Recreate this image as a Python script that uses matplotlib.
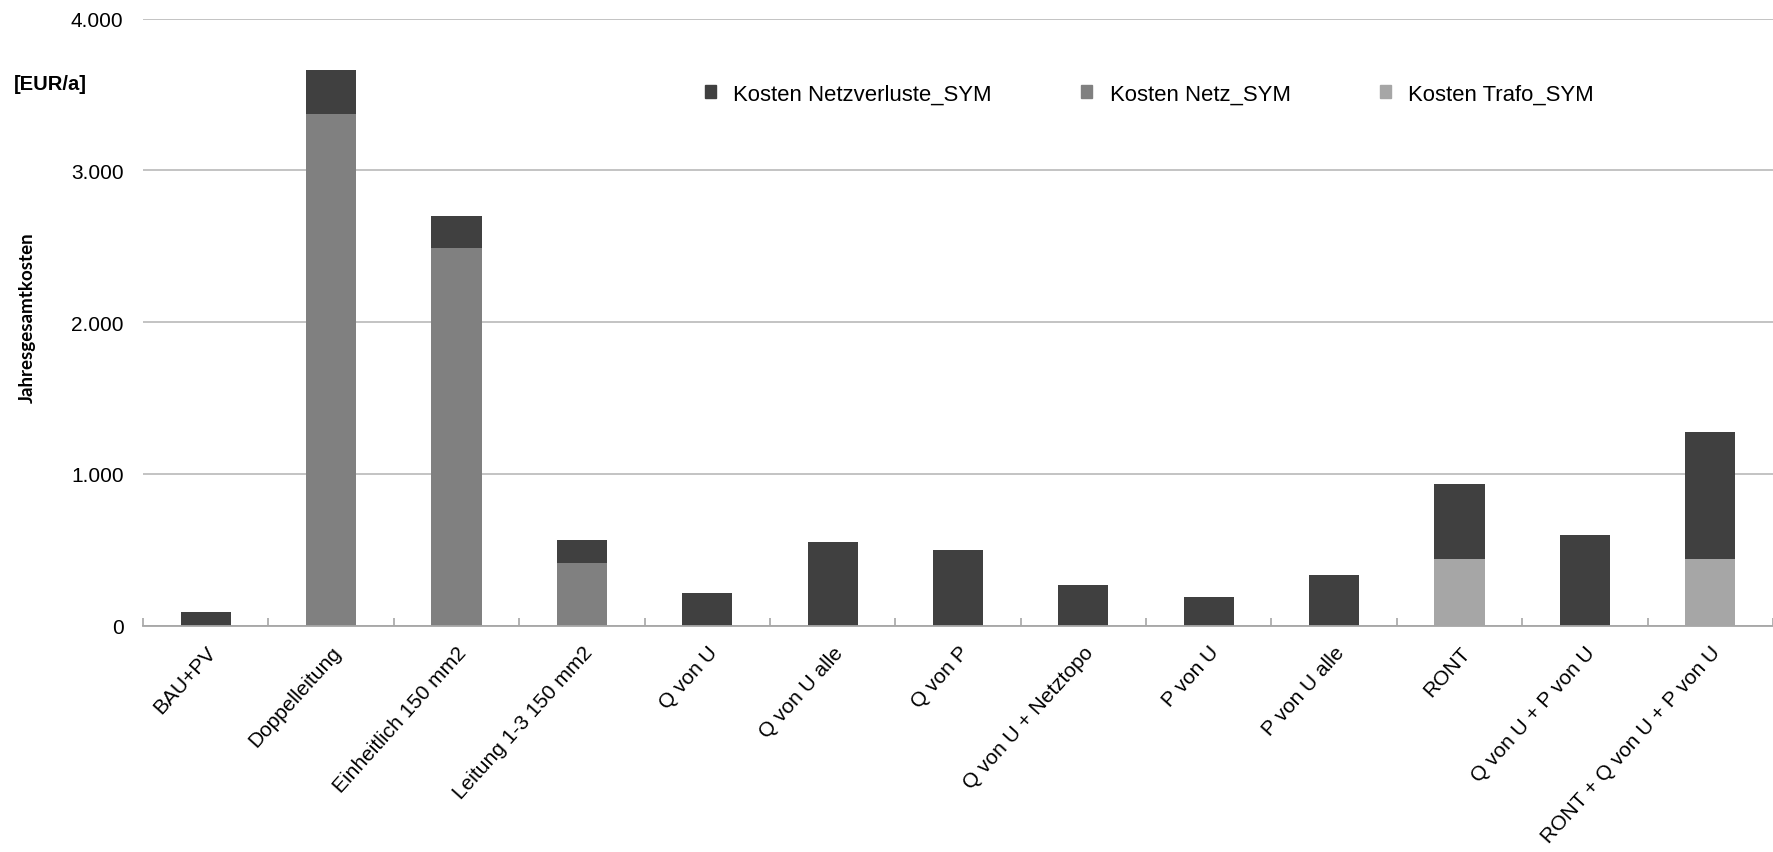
import numpy as np
import matplotlib
matplotlib.use("Agg")
import matplotlib.pyplot as plt
from matplotlib.ticker import FuncFormatter, MultipleLocator
from matplotlib.patches import Patch

plt.rcParams['font.family'] = ['Liberation Sans', 'DejaVu Sans']

# Jahresgesamtkosten je Variante [EUR/a]
varianten = ['BAU+PV', 'Doppelleitung', 'Einheitlich 150 mm2', 'Leitung 1-3 150 mm2',
             'Q von U', 'Q von U alle', 'Q von P', 'Q von U + Netztopo',
             'P von U', 'P von U alle', 'RONT', 'Q von U + P von U',
             'RONT + Q von U + P von U']
kosten_trafo = [0, 0, 0, 0, 0, 0, 0, 0, 0, 0, 438, 0, 438]
kosten_netz = [0, 3369, 2487, 412, 0, 0, 0, 0, 0, 0, 0, 0, 0]
kosten_verluste = [88, 292, 214, 153, 215, 552, 499, 267, 190, 331, 494, 596, 841]

c_verluste = '#404040'
c_netz = '#808080'
c_trafo = '#a6a6a6'

fig = plt.figure(figsize=(17.73, 8.53), dpi=100)
ax = fig.add_axes([143 / 1773, 1 - 626.7 / 853, 1 - 143 / 1773, (626.7 - 19.5) / 853])

x = np.arange(len(varianten))
trafo = np.array(kosten_trafo)
netz = np.array(kosten_netz)
verluste = np.array(kosten_verluste)
w = 0.4
ax.bar(x, trafo, w, color=c_trafo, zorder=3)
ax.bar(x, netz, w, bottom=trafo, color=c_netz, zorder=3)
ax.bar(x, verluste, w, bottom=trafo + netz, color=c_verluste, zorder=3)

ax.set_xlim(-0.5, len(varianten) - 0.5)
ax.set_ylim(0, 4000)
ax.yaxis.set_major_locator(MultipleLocator(1000))
ax.yaxis.set_major_formatter(FuncFormatter(lambda v, p: f'{int(v):,}'.replace(',', '.')))
ax.grid(axis='y', color='#b3b3b3', linewidth=1.1, zorder=0)
ax.set_axisbelow(True)

for s in ['top', 'right', 'left']:
    ax.spines[s].set_visible(False)
ax.spines['bottom'].set_color('#a6a6a6')
ax.spines['bottom'].set_linewidth(1.3)
ax.spines['bottom'].set_zorder(4)

ax.set_xticks(x)
ax.set_xticklabels(varianten, rotation=48, ha='right', rotation_mode='anchor', fontsize=15)
ax.set_xticks(np.arange(len(varianten) + 1) - 0.5, minor=True)
ax.tick_params(axis='x', which='major', length=0, pad=12)
ax.tick_params(axis='x', which='minor', direction='in', length=6, width=1.2, color='#a6a6a6')
ax.tick_params(axis='y', length=0, pad=14, labelsize=15)

fig.text(27 / 1773, 1 - 318 / 853, 'Jahresgesamtkosten', rotation=90, ha='center', va='center',
         fontsize=13.5, fontweight='bold', family=['Lato', 'DejaVu Sans'])
fig.text(14 / 1773, 1 - 85 / 853, '[EUR/a]', ha='left', va='center', fontsize=14.5,
         fontweight='bold')

handles = [Patch(color=c_verluste), Patch(color=c_netz), Patch(color=c_trafo)]
labels = ['Kosten Netzverluste_SYM', 'Kosten Netz_SYM', 'Kosten Trafo_SYM']
fig.legend(handles, labels, loc='center left', bbox_to_anchor=(705 / 1773, 1 - 95 / 853),
           ncol=3, frameon=False, fontsize=15.9, handlelength=0.48, handleheight=0.48,
           handletextpad=0.8, columnspacing=4.05, borderpad=0, borderaxespad=0)

fig.savefig('out.png', dpi=100)
